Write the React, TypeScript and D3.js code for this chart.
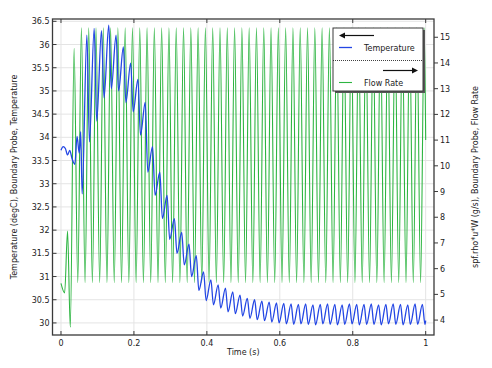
import React, { useEffect, useRef } from "react";
import * as d3 from "d3";

// Flow rate (right axis, g/s)
const flowTime = [
  0, 0.01, 0.018, 0.0255,
  0.036, 0.046, 0.056, 0.066, 0.076, 0.086, 0.096, 0.106, 0.116, 0.126,
  0.136, 0.146, 0.156, 0.166, 0.176, 0.186, 0.196, 0.206, 0.216, 0.226,
  0.236, 0.246, 0.256, 0.266, 0.276, 0.286, 0.296, 0.306, 0.316, 0.326,
  0.336, 0.346, 0.356, 0.366, 0.376, 0.386, 0.396, 0.406, 0.416, 0.426,
  0.436, 0.446, 0.456, 0.466, 0.476, 0.486, 0.496, 0.506, 0.516, 0.526,
  0.536, 0.546, 0.556, 0.566, 0.576, 0.586, 0.596, 0.606, 0.616, 0.626,
  0.636, 0.646, 0.656, 0.666, 0.676, 0.686, 0.696, 0.706, 0.716, 0.726,
  0.736, 0.746, 0.756, 0.766, 0.776, 0.786, 0.796, 0.806, 0.816, 0.826,
  0.836, 0.846, 0.856, 0.866, 0.876, 0.886, 0.896, 0.906, 0.916, 0.926,
  0.936, 0.946, 0.956, 0.966, 0.976, 0.986, 0.996, 1,
];
const flowRate = [
  5.43, 5.06, 7.46, 3.72,
  14.57, 5.45, 15.37, 5.45, 15.37, 5.45, 15.37, 5.45, 15.37, 5.45,
  15.37, 5.45, 15.37, 5.45, 15.37, 5.45, 15.37, 5.45, 15.37, 5.45,
  15.37, 5.45, 15.37, 5.45, 15.37, 5.45, 15.37, 5.45, 15.37, 5.45,
  15.37, 5.45, 15.37, 5.45, 15.37, 5.45, 15.37, 5.45, 15.37, 5.45,
  15.37, 5.45, 15.37, 5.45, 15.37, 5.45, 15.37, 5.45, 15.37, 5.45,
  15.37, 5.45, 15.37, 5.45, 15.37, 5.45, 15.37, 5.45, 15.37, 5.45,
  15.37, 5.45, 15.37, 5.45, 15.37, 5.45, 15.37, 5.45, 15.37, 5.45,
  15.37, 5.45, 15.37, 5.45, 15.37, 5.45, 15.37, 5.45, 15.37, 5.45,
  15.37, 5.45, 15.37, 5.45, 15.37, 5.45, 15.37, 5.45, 15.37, 5.45,
  15.37, 5.45, 15.37, 5.45, 15.37, 5.45, 15.37, 11.0,
];

// Temperature (left axis, degC)
const tempTime = [
  0, 0.006, 0.012, 0.018, 0.024, 0.03, 0.038, 0.044, 0.05, 0.054,
  0.058, 0.071, 0.078, 0.091, 0.098, 0.111, 0.118, 0.131, 0.138, 0.151,
  0.158, 0.171, 0.178, 0.191, 0.198, 0.211, 0.218, 0.231, 0.238, 0.251,
  0.258, 0.271, 0.278, 0.291, 0.298, 0.311, 0.318, 0.331, 0.338, 0.351,
  0.358, 0.371, 0.378, 0.391, 0.398, 0.411, 0.418, 0.431, 0.438, 0.451,
  0.458, 0.471, 0.478, 0.491, 0.498, 0.511, 0.518, 0.531, 0.538, 0.551,
  0.558, 0.571, 0.578, 0.591, 0.598, 0.611, 0.618, 0.631, 0.638, 0.651,
  0.658, 0.671, 0.678, 0.691, 0.698, 0.711, 0.718, 0.731, 0.738, 0.751,
  0.758, 0.771, 0.778, 0.791, 0.798, 0.811, 0.818, 0.831, 0.838, 0.851,
  0.858, 0.871, 0.878, 0.891, 0.898, 0.911, 0.918, 0.931, 0.938, 0.951,
  0.958, 0.971, 0.978, 0.991, 0.998, 1,
];
const temperature = [
  33.72, 33.8, 33.76, 33.62, 33.72, 33.55, 33.42, 34.02, 33.66, 34.12,
  32.78, 36.2, 33.9, 36.35, 34.35, 36.3, 34.85, 36.42, 35.05, 36.2,
  35.0, 35.95, 34.75, 35.6, 34.55, 35.25, 34.05, 34.75, 33.25, 33.8,
  32.75, 33.25, 32.25, 32.75, 31.8, 32.25, 31.5, 31.95, 31.25, 31.7,
  31.0, 31.45, 30.7, 31.1, 30.48, 30.93, 30.39, 30.82, 30.32, 30.75,
  30.24, 30.67, 30.2, 30.6, 30.15, 30.53, 30.1, 30.5, 30.07, 30.47,
  30.05, 30.45, 30.02, 30.43, 30.0, 30.42, 29.98, 30.41, 29.97, 30.4,
  29.98, 30.41, 29.97, 30.39, 29.96, 30.4, 29.98, 30.41, 29.97, 30.4,
  29.96, 30.39, 29.97, 30.41, 29.98, 30.4, 29.96, 30.4, 29.97, 30.41,
  29.97, 30.39, 29.96, 30.4, 29.98, 30.41, 29.97, 30.4, 29.96, 30.39,
  29.97, 30.41, 29.97, 30.4, 29.97, 30.05,
];

const xTicks = [0, 0.2, 0.4, 0.6, 0.8, 1];
const leftTicks = [30, 30.5, 31, 31.5, 32, 32.5, 33, 33.5, 34, 34.5, 35, 35.5, 36, 36.5];
const rightTicks = [4, 5, 6, 7, 8, 9, 10, 11, 12, 13, 14, 15];

const BLUE = "#2346e4";
const GREEN = "#2db541";
const FRAME = "#3a3a3a";
const FONT = "DejaVu Sans, sans-serif";

const App: React.FC = () => {
  const ref = useRef<SVGSVGElement | null>(null);

  useEffect(() => {
    const svg = d3.select(ref.current);
    svg.selectAll("*").remove();

    const left = 52.5, right = 434, top = 19, bottom = 335;

    const x = d3.scaleLinear().domain([-0.0233, 1.0228]).range([left, right]);
    const yL = d3.scaleLinear().domain([29.74, 36.55]).range([bottom, top]);
    const yR = d3.scaleLinear().domain([3.42, 15.71]).range([bottom, top]);

    svg.append("rect").attr("width", 492).attr("height", 368).attr("fill", "white");

    // grid
    const grid = svg.append("g").attr("stroke", "#e4e4e4").attr("stroke-width", 1);
    xTicks.forEach((t) => {
      grid.append("line").attr("x1", x(t)).attr("x2", x(t)).attr("y1", top).attr("y2", bottom);
    });
    leftTicks.forEach((t) => {
      grid.append("line").attr("x1", left).attr("x2", right).attr("y1", yL(t)).attr("y2", yL(t));
    });

    svg.append("clipPath").attr("id", "plot-clip")
      .append("rect").attr("x", left).attr("y", top).attr("width", right - left).attr("height", bottom - top);

    const flowPts: [number, number][] = flowTime.map((t, i) => [t, flowRate[i]]);
    const tempPts: [number, number][] = tempTime.map((t, i) => [t, temperature[i]]);

    const flowLine = d3.line<[number, number]>()
      .x((d) => x(d[0])).y((d) => yR(d[1])).curve(d3.curveMonotoneX);
    const tempLine = d3.line<[number, number]>()
      .x((d) => x(d[0])).y((d) => yL(d[1])).curve(d3.curveMonotoneX);

    const plot = svg.append("g").attr("clip-path", "url(#plot-clip)");
    plot.append("path").datum(flowPts).attr("d", flowLine)
      .attr("fill", "none").attr("stroke", GREEN).attr("stroke-width", 1.1);
    plot.append("path").datum(tempPts).attr("d", tempLine)
      .attr("fill", "none").attr("stroke", BLUE).attr("stroke-width", 1.3);

    // frame
    svg.append("rect").attr("x", left).attr("y", top)
      .attr("width", right - left).attr("height", bottom - top)
      .attr("fill", "none").attr("stroke", FRAME).attr("stroke-width", 1.3);

    const ticks = svg.append("g").attr("stroke", FRAME).attr("stroke-width", 1);
    const labels = svg.append("g").attr("font-family", FONT).attr("font-size", 8).attr("fill", "#222");

    xTicks.forEach((t) => {
      ticks.append("line").attr("x1", x(t)).attr("x2", x(t)).attr("y1", bottom).attr("y2", bottom - 4);
      ticks.append("line").attr("x1", x(t)).attr("x2", x(t)).attr("y1", top).attr("y2", top + 4);
      labels.append("text").attr("x", x(t)).attr("y", bottom + 11)
        .attr("text-anchor", "middle").text(d3.format("~g")(t));
    });
    leftTicks.forEach((t) => {
      ticks.append("line").attr("x1", left).attr("x2", left + 4).attr("y1", yL(t)).attr("y2", yL(t));
      labels.append("text").attr("x", left - 3).attr("y", yL(t) + 3)
        .attr("text-anchor", "end").text(d3.format("~g")(t));
    });
    rightTicks.forEach((t) => {
      ticks.append("line").attr("x1", right).attr("x2", right + 4).attr("y1", yR(t)).attr("y2", yR(t));
      labels.append("text").attr("x", right + 6).attr("y", yR(t) + 3)
        .attr("text-anchor", "start").text(String(t));
    });

    // axis titles
    labels.append("text").attr("x", (left + right) / 2).attr("y", 355)
      .attr("text-anchor", "middle").text("Time (s)");
    labels.append("text").attr("transform", `translate(17,${(top + bottom) / 2}) rotate(-90)`)
      .attr("text-anchor", "middle").text("Temperature (degC), Boundary Probe, Temperature");
    labels.append("text").attr("transform", `translate(478,${(top + bottom) / 2}) rotate(-90)`)
      .attr("text-anchor", "middle").text("spf.rho*u*W (g/s), Boundary Probe, Flow Rate");

    // legend
    const lg = svg.append("g");
    const lx = 333, ly = 28, lw = 90, lh = 63;
    lg.append("rect").attr("x", lx + 2).attr("y", ly + 2).attr("width", lw).attr("height", lh).attr("fill", "#555");
    lg.append("rect").attr("x", lx).attr("y", ly).attr("width", lw).attr("height", lh)
      .attr("fill", "white").attr("stroke", FRAME).attr("stroke-width", 1);

    // left arrow
    lg.append("line").attr("x1", lx + 10).attr("x2", lx + 41).attr("y1", ly + 7.5).attr("y2", ly + 7.5)
      .attr("stroke", "#111").attr("stroke-width", 1.2);
    lg.append("path").attr("d", `M${lx + 6},${ly + 7.5} L${lx + 12},${ly + 4.5} L${lx + 12},${ly + 10.5} Z`).attr("fill", "#111");
    lg.append("line").attr("x1", lx + 6).attr("x2", lx + 19).attr("y1", ly + 19.5).attr("y2", ly + 19.5)
      .attr("stroke", BLUE).attr("stroke-width", 1.3);
    lg.append("text").attr("x", lx + 31).attr("y", ly + 22.5).attr("font-family", FONT).attr("font-size", 8)
      .attr("fill", "#222").text("Temperature");

    lg.append("line").attr("x1", lx).attr("x2", lx + lw).attr("y1", ly + 32.5).attr("y2", ly + 32.5)
      .attr("stroke", "#111").attr("stroke-width", 0.8).attr("stroke-dasharray", "1,1");

    // right arrow
    lg.append("line").attr("x1", lx + 50).attr("x2", lx + 80).attr("y1", ly + 42.5).attr("y2", ly + 42.5)
      .attr("stroke", "#111").attr("stroke-width", 1.2);
    lg.append("path").attr("d", `M${lx + 85},${ly + 42.5} L${lx + 79},${ly + 39.5} L${lx + 79},${ly + 45.5} Z`).attr("fill", "#111");
    lg.append("line").attr("x1", lx + 6).attr("x2", lx + 19).attr("y1", ly + 54.5).attr("y2", ly + 54.5)
      .attr("stroke", GREEN).attr("stroke-width", 1.1);
    lg.append("text").attr("x", lx + 31).attr("y", ly + 57.5).attr("font-family", FONT).attr("font-size", 8)
      .attr("fill", "#222").text("Flow Rate");
  }, []);

  return (
    <svg ref={ref} width={492} height={368}
      style={{ position: "absolute", left: 0, top: 0, display: "block" }} />
  );
};

export default App;
